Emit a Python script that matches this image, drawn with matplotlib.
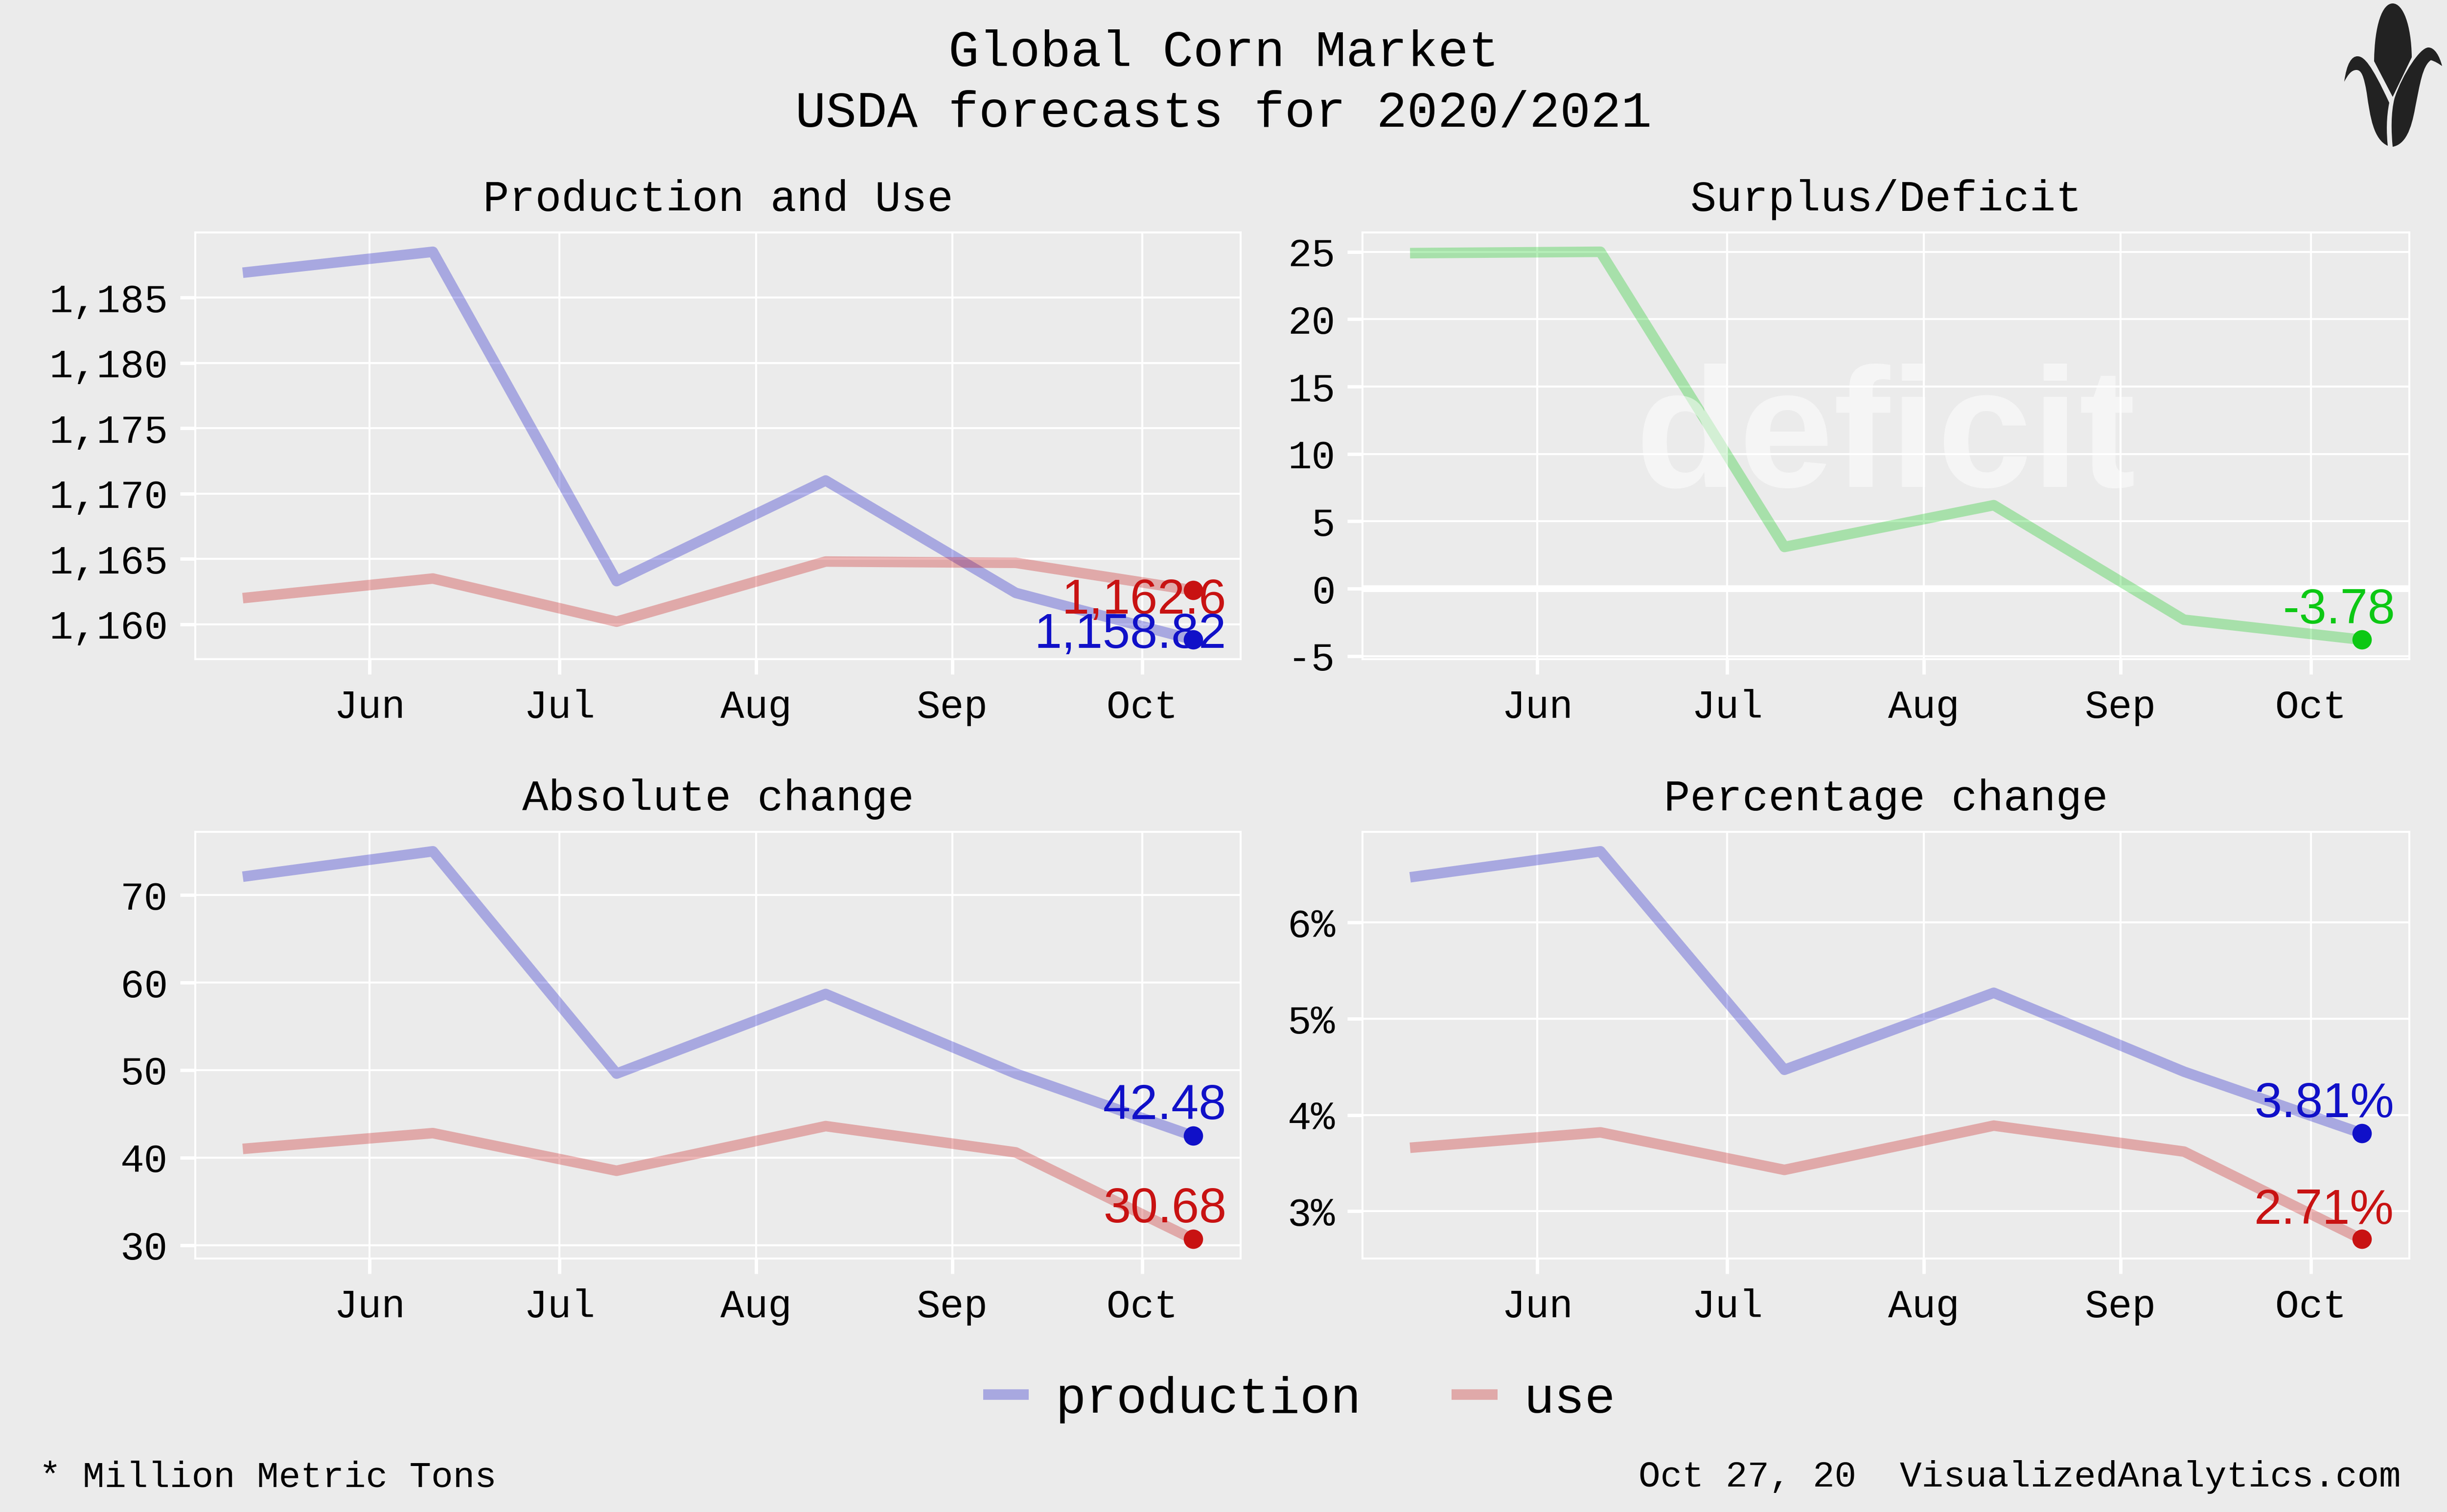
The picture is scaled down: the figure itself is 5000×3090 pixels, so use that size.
import matplotlib
matplotlib.use('Agg')
import matplotlib.pyplot as plt
import matplotlib.dates as mdates
import matplotlib.ticker as mticker
from matplotlib.path import Path
from matplotlib.patches import PathPatch
from matplotlib.transforms import Affine2D
import pandas as pd

# ---------------- data ----------------
report_dates = ['2020-05-12', '2020-06-11', '2020-07-10', '2020-08-12', '2020-09-11', '2020-10-09']
production = [1186.9, 1188.5, 1163.3, 1171.0, 1162.4, 1158.82]
use = [1162.0, 1163.5, 1160.2, 1164.8, 1164.7, 1162.6]
surplus = [24.9, 25.0, 3.1, 6.2, -2.3, -3.78]
production_abs_change = [72.1, 75.0, 49.6, 58.7, 49.6, 42.48]
use_abs_change = [41.0, 42.8, 38.5, 43.6, 40.6, 30.68]
production_pct_change = [6.47, 6.74, 4.47, 5.27, 4.45, 3.81]
use_pct_change = [3.66, 3.82, 3.43, 3.89, 3.62, 2.71]
series_names = ['production', 'use']
panel_titles = ['Production and Use', 'Surplus/Deficit', 'Absolute change', 'Percentage change']
title_lines = ['Global Corn Market', 'USDA forecasts for 2020/2021']
footer_left = '* Million Metric Tons'
footer_right = 'Oct 27, 20  VisualizedAnalytics.com'
watermark = 'deficit'

dates = pd.to_datetime(report_dates)

# ---------------- style ----------------
BG = '#EBEBEB'
MONO = ['Liberation Mono', 'DejaVu Sans Mono']
SANS = ['Liberation Sans', 'DejaVu Sans']
BLUE = '#1010C8'
RED = '#C81212'
GREEN = '#0CC814'
LINE_ALPHA = 0.3
LW = 3.1

plt.rcParams['font.family'] = MONO

fig = plt.figure(figsize=(10, 6.18), dpi=500, facecolor=BG)

positions = [
    [0.0798, 0.5641, 0.4272, 0.2822],
    [0.5568, 0.5641, 0.4278, 0.2822],
    [0.0798, 0.1676, 0.4272, 0.2822],
    [0.5568, 0.1676, 0.4278, 0.2822],
]
axes = [fig.add_axes(p) for p in positions]


def style_axes(ax, title, ystep, yfmt):
    ax.set_facecolor(BG)
    ax.set_axisbelow(True)
    ax.grid(True, color='white', linewidth=0.6)
    for s in ax.spines.values():
        s.set_color('white')
        s.set_linewidth(0.6)
    ax.tick_params(axis='both', colors='white', width=1.0, length=4.5,
                   labelcolor='black', labelsize=11.7)
    ax.tick_params(axis='x', pad=4.3)
    ax.tick_params(axis='y', pad=3.5)
    ax.xaxis.set_major_locator(mdates.MonthLocator())
    ax.xaxis.set_major_formatter(mdates.DateFormatter('%b'))
    ax.yaxis.set_major_locator(mticker.MultipleLocator(ystep))
    ax.yaxis.set_major_formatter(yfmt)
    ax.margins(x=0.05, y=0.05)
    ax.set_title(title, fontsize=12.8, pad=6.3, family=MONO)


def line(ax, y, color, label=None):
    h, = ax.plot(dates, y, color=color, alpha=LINE_ALPHA, lw=LW,
                 solid_capstyle='butt', solid_joinstyle='round', label=label, zorder=3)
    return h


def end_label(ax, y, color, text, dx, dy):
    ax.annotate(text, (dates[-1], y[-1]), xytext=(dx, dy), textcoords='offset points',
                ha='right', va='baseline', color=color, fontsize=14.5, family=SANS, zorder=5)
    ax.plot([dates[-1]], [y[-1]], 'o', color=color, markersize=5.7, markeredgewidth=0, zorder=6)


# Panel 1: production and use
ax = axes[0]
h_prod = line(ax, production, BLUE, series_names[0])
h_use = line(ax, use, RED, series_names[1])
style_axes(ax, panel_titles[0], 5, mticker.FuncFormatter(lambda v, p: f'{v:,.0f}'))
end_label(ax, use, RED, f'{use[-1]:,}', 9.8, -6.9)
end_label(ax, production, BLUE, f'{production[-1]:,}', 9.8, -2.4)

# Panel 2: surplus / deficit
ax = axes[1]
ax.axhline(0, color='white', lw=2.0, zorder=2)
line(ax, surplus, GREEN)
style_axes(ax, panel_titles[1], 5, mticker.FuncFormatter(lambda v, p: f'{v:.0f}'))
ax.text(0.5, 0.404, watermark, transform=ax.transAxes, ha='center', va='baseline',
        fontsize=50, fontweight='bold', family=SANS, color='white', alpha=0.5, zorder=4)
end_label(ax, surplus, GREEN, f'{surplus[-1]:.2f}', 9.8, 4.8)

# Panel 3: absolute change
ax = axes[2]
line(ax, production_abs_change, BLUE)
line(ax, use_abs_change, RED)
style_axes(ax, panel_titles[2], 10, mticker.FuncFormatter(lambda v, p: f'{v:.0f}'))
end_label(ax, production_abs_change, BLUE, f'{production_abs_change[-1]:.2f}', 9.8, 5.0)
end_label(ax, use_abs_change, RED, f'{use_abs_change[-1]:.2f}', 9.8, 4.9)

# Panel 4: percentage change
ax = axes[3]
line(ax, production_pct_change, BLUE)
line(ax, use_pct_change, RED)
style_axes(ax, panel_titles[3], 1, mticker.FuncFormatter(lambda v, p: f'{v:.0f}%'))
end_label(ax, production_pct_change, BLUE, f'{production_pct_change[-1]:.2f}%', 9.5, 4.8)
end_label(ax, use_pct_change, RED, f'{use_pct_change[-1]:.2f}%', 9.5, 4.6)

# Titles
fig.text(0.5, 0.9566, title_lines[0], ha='center', va='baseline', fontsize=15, family=MONO)
fig.text(0.5, 0.9165, title_lines[1], ha='center', va='baseline', fontsize=15, family=MONO)

# Legend
fig.legend([h_prod, h_use], series_names, loc='center', bbox_to_anchor=(0.531, 0.0744),
           ncol=2, frameon=False, handlelength=0.9, handletextpad=0.52,
           columnspacing=1.77, prop={'family': MONO, 'size': 15})

# Footer
fig.text(0.016, 0.0168, footer_left, ha='left', va='baseline', fontsize=10.7, family=MONO)
fig.text(0.981, 0.0168, footer_right, ha='right', va='baseline', fontsize=10.7, family=MONO)

# Corn logo (pixel coordinates, origin top-left)
px = Affine2D().scale(1 / 5000, -1 / 3090).translate(0, 1) + fig.transFigure
M, C, L, Z = Path.MOVETO, Path.CURVE4, Path.LINETO, Path.CLOSEPOLY
cob = Path([(4851, 125), (4852, 50), (4868, 7), (4889, 7),
            (4910, 7), (4927, 50), (4928, 117), (4889, 198), (4851, 125)],
           [M, C, C, C, C, C, C, L, Z])
left_leaf = Path([(4790, 167),
                  (4795, 130), (4805, 115), (4817, 115),
                  (4830, 115), (4845, 130), (4882, 210),
                  (4876, 240), (4876, 270), (4879, 298),
                  (4850, 285), (4843, 240), (4836, 190),
                  (4830, 155), (4825, 143), (4815, 143),
                  (4805, 143), (4798, 152), (4790, 167),
                  (4790, 167)],
                 [M] + [C] * 18 + [Z])
right_leaf = Path([(4990, 135),
                   (4985, 115), (4975, 97), (4962, 97),
                   (4945, 97), (4910, 150), (4893, 200),
                   (4885, 230), (4886, 270), (4889, 300),
                   (4915, 295), (4927, 265), (4935, 220),
                   (4945, 170), (4950, 135), (4967, 123),
                   (4975, 125), (4983, 130), (4990, 135),
                   (4990, 135)],
                  [M] + [C] * 18 + [Z])
for p in (cob, left_leaf, right_leaf):
    fig.patches.append(PathPatch(p, transform=px, facecolor='#222222', edgecolor='none'))

fig.savefig('out.png', dpi=500, facecolor=BG)
